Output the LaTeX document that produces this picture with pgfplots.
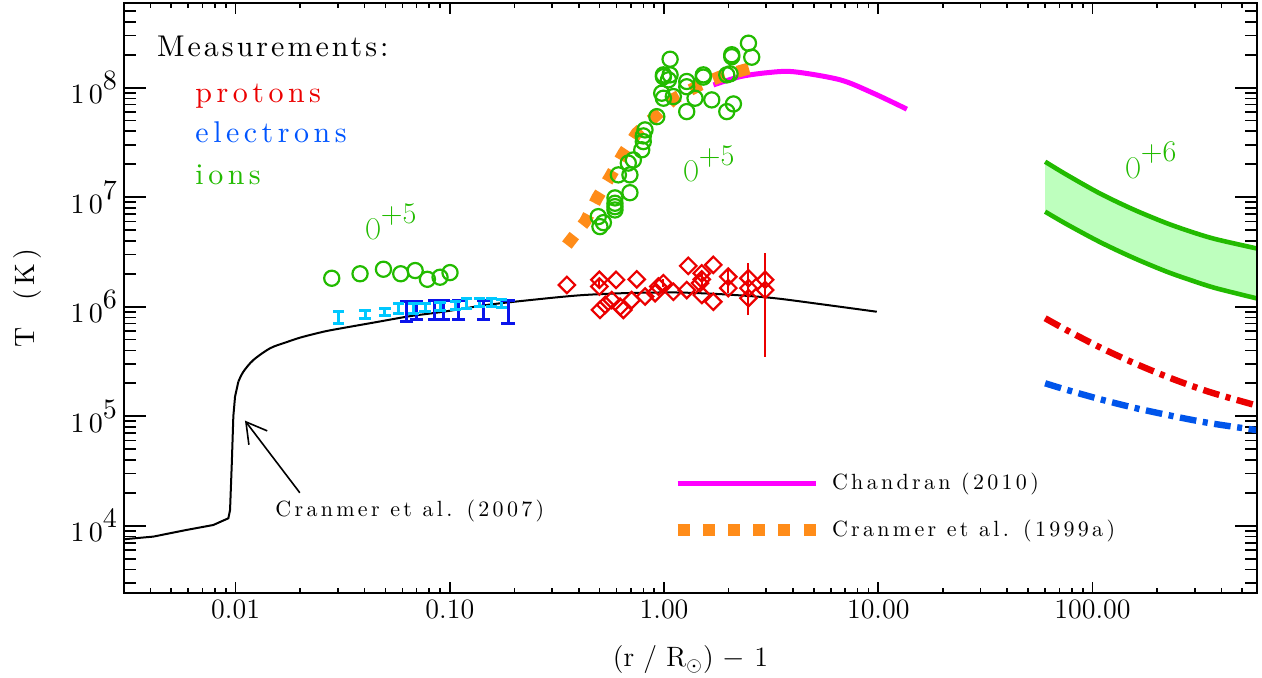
\documentclass[border=0pt]{standalone}
\usepackage{fontspec}
\usepackage{pgfplots}
\pgfplotsset{compat=1.18}
\usetikzlibrary{arrows.meta}
\newfontfamily\idl[LetterSpace=15]{lmroman10-regular.otf}
\newfontfamily\idlm[LetterSpace=10]{lmroman10-regular.otf}

\definecolor{ionG}{RGB}{34,187,0}
\definecolor{proR}{RGB}{235,0,0}
\definecolor{eleB}{RGB}{0,85,255}
\definecolor{barB}{RGB}{10,20,235}
\definecolor{barC}{RGB}{0,200,255}
\definecolor{magC}{RGB}{255,0,255}
\definecolor{oraC}{RGB}{255,140,25}
\definecolor{bandF}{RGB}{190,255,190}
\definecolor{dashB}{RGB}{0,85,235}

\newcommand\tp[1]{10\raisebox{7pt}{#1}}
\newcommand\ion[1]{\scalebox{0.72}[1]{O}\raisebox{8.3pt}{#1}}

\begin{document}
\begin{tikzpicture}
\begin{axis}[width=566.5pt, height=295pt, scale only axis,
  xmode=log, ymode=log, xmin=0.003013, xmax=586, ymin=2432, ymax=5.94e8,
  axis line style={line width=1pt},
  tick style={black, line width=0.8pt},
  xtick=\empty,
  ytick={1e4,1e5,1e6,1e7,1e8},
  yticklabels={\tp{4},\tp{5},\tp{6},\tp{7},\tp{8}},
  minor ytick={3e3,4e3,5e3,6e3,7e3,8e3,9e3,
    2e4,3e4,4e4,5e4,6e4,7e4,8e4,9e4,
    2e5,3e5,4e5,5e5,6e5,7e5,8e5,9e5,
    2e6,3e6,4e6,5e6,6e6,7e6,8e6,9e6,
    2e7,3e7,4e7,5e7,6e7,7e7,8e7,9e7,
    2e8,3e8,4e8,5e8},
  major tick length=11.3pt, minor tick length=5.8pt,
  yticklabel style={font=\fontsize{14}{16}\selectfont\idl},
  ylabel={T\ \ (K)},
  ylabel style={font=\fontsize{14}{16}\selectfont\idl,
    at={(axis description cs:-0.0856,0.5)}, anchor=center},
  legend style={at={(rel axis cs:0.483,0.1467)}, anchor=west,
    draw=none, fill=none, inner sep=0pt, row sep=13.5pt,
    font=\fontsize{11}{13}\selectfont\idl,
    nodes={inner sep=0pt},
    /tikz/every odd column/.style={column sep=5.2pt}},
  legend cell align=left,
  legend image code/.code={\draw[#1] (0pt,0pt) -- (69pt,0pt);},
]
\coordinate (bl) at (rel axis cs:0,0);
\coordinate (tr) at (rel axis cs:1,1);

% O+6 band
\addplot[fill=bandF, draw=none, forget plot] coordinates {
  (60.1,2.11e7) (75.9,1.60e7) (108.5,1.08e7) (155,7.74e6) (222,5.79e6) (300,4.72e6) (380,4.12e6) (586,3.40e6)
  (586,1.19e6) (380,1.47e6) (300,1.70e6) (222,2.09e6) (155,2.80e6) (108.5,3.89e6) (75.9,5.66e6) (60.1,7.38e6)
} -- cycle;
\addplot[ionG, line width=2.3pt, smooth, forget plot] coordinates {
  (60.1,2.11e7) (75.9,1.60e7) (108.5,1.08e7) (155,7.74e6) (222,5.79e6) (300,4.72e6) (380,4.12e6) (586,3.40e6)};
\addplot[ionG, line width=2.3pt, smooth, forget plot] coordinates {
  (60.1,7.38e6) (75.9,5.66e6) (108.5,3.89e6) (155,2.80e6) (222,2.09e6) (300,1.70e6) (380,1.47e6) (586,1.19e6)};

% wind protons and electrons
\addplot[proR, line width=3.2pt, smooth, dash pattern=on 8.3pt off 3.3pt on 2.5pt off 3.3pt, forget plot] coordinates {
  (60.1,7.85e5) (75.9,6.10e5) (108.5,4.25e5) (155,3.08e5) (222,2.30e5) (300,1.85e5) (380,1.59e5) (586,1.25e5)};
\addplot[dashB, line width=3.2pt, smooth, dash pattern=on 8.3pt off 3.3pt on 2.5pt off 3.3pt, forget plot] coordinates {
  (60.1,2.0e5) (75.9,1.74e5) (108.5,1.43e5) (155,1.20e5) (222,1.03e5) (300,9.16e4) (380,8.45e4) (586,7.46e4)};

% Cranmer et al. (2007)
\addplot[black, line width=1pt, forget plot] coordinates {
  (0.003013,7530) (0.00413,7960) (0.00591,9160) (0.00787,10160) (0.00925,11700)
  (0.00942,13900) (0.0096,37200) (0.00976,1.0e5) (0.00994,1.51e5) (0.0103,2.07e5)};
\addplot[black, line width=1pt, smooth, forget plot] coordinates {
  (0.0103,2.07e5) (0.01087,2.55e5) (0.0121,3.26e5) (0.0145,4.18e5) (0.0173,4.75e5)
  (0.0200,5.22e5) (0.0231,5.62e5) (0.0266,6.0e5) (0.0318,6.4e5) (0.0456,7.25e5)
  (0.0652,8.2e5) (0.0933,9.0e5) (0.15,1.04e6) (0.2366,1.15e6) (0.4,1.27e6)
  (0.646,1.33e6) (1.0,1.35e6) (1.32,1.34e6) (2.0,1.29e6) (3.24,1.20e6)
  (5.5,1.05e6) (9.84,9.0e5)};

% electron temperature ranges
\addplot[barB, line width=1.5pt, mark=-, mark size=3.3pt, forget plot] coordinates {(0.063,7.31e5) (0.063,1.11e6)};
\addplot[barB, line width=1.5pt, mark=-, mark size=3.3pt, forget plot] coordinates {(0.070,7.69e5) (0.070,1.11e6)};
\addplot[barB, line width=1.5pt, mark=-, mark size=3.3pt, forget plot] coordinates {(0.085,7.69e5) (0.085,1.13e6)};
\addplot[barB, line width=1.5pt, mark=-, mark size=3.3pt, forget plot] coordinates {(0.093,7.69e5) (0.093,1.13e6)};
\addplot[barB, line width=1.5pt, mark=-, mark size=3.3pt, forget plot] coordinates {(0.110,7.69e5) (0.110,1.13e6)};
\addplot[barB, line width=1.5pt, mark=-, mark size=3.3pt, forget plot] coordinates {(0.143,7.69e5) (0.143,1.15e6)};
\addplot[barB, line width=1.5pt, mark=-, mark size=3.3pt, forget plot] coordinates {(0.187,6.97e5) (0.187,1.15e6)};
\addplot[barC, line width=1.5pt, mark=-, mark size=2.8pt, forget plot] coordinates {(0.0302,7.06e5) (0.0302,9.0e5)};
\addplot[barC, line width=1.5pt, mark=-, mark size=2.8pt, forget plot] coordinates {(0.0402,7.85e5) (0.0402,9.2e5)};
\addplot[barC, line width=1.5pt, mark=-, mark size=2.8pt, forget plot] coordinates {(0.0498,8.24e5) (0.0498,9.68e5)};
\addplot[barC, line width=1.5pt, mark=-, mark size=2.8pt, forget plot] coordinates {(0.0575,8.73e5) (0.0575,1.06e6)};
\addplot[barC, line width=1.5pt, mark=-, mark size=2.8pt, forget plot] coordinates {(0.0676,8.73e5) (0.0676,1.06e6)};
\addplot[barC, line width=1.5pt, mark=-, mark size=2.8pt, forget plot] coordinates {(0.0766,9.0e5) (0.0766,1.08e6)};
\addplot[barC, line width=1.5pt, mark=-, mark size=2.8pt, forget plot] coordinates {(0.090,9.2e5) (0.090,1.09e6)};
\addplot[barC, line width=1.5pt, mark=-, mark size=2.8pt, forget plot] coordinates {(0.106,9.4e5) (0.106,1.12e6)};
\addplot[barC, line width=1.5pt, mark=-, mark size=2.8pt, forget plot] coordinates {(0.120,9.68e5) (0.120,1.20e6)};
\addplot[barC, line width=1.5pt, mark=-, mark size=2.8pt, forget plot] coordinates {(0.138,1.0e6) (0.138,1.20e6)};
\addplot[barC, line width=1.5pt, mark=-, mark size=2.8pt, forget plot] coordinates {(0.157,1.0e6) (0.157,1.20e6)};
\addplot[barC, line width=1.5pt, mark=-, mark size=2.8pt, forget plot] coordinates {(0.175,9.9e5) (0.175,1.17e6)};

% proton error lines
\addplot[proR, line width=1pt, forget plot] coordinates {(2.963,3.5e5) (2.963,3.08e6)};
\addplot[proR, line width=1pt, forget plot] coordinates {(2.477,8.4e5) (2.477,2.49e6)};
\addplot[proR, line width=1pt, forget plot] coordinates {(1.995,1.33e6) (1.995,2.25e6)};
\addplot[proR, line width=1pt, forget plot] coordinates {(1.500,1.48e6) (1.500,2.10e6)};
\addplot[proR, line width=1pt, forget plot] coordinates {(0.993,1.50e6) (0.993,1.80e6)};
\addplot[proR, line width=1pt, forget plot] coordinates {(0.499,1.50e6) (0.499,1.78e6)};

% protons
\addplot[only marks, mark=square, mark size=2.9pt,
  mark options={rotate=45, draw=proR, line width=1.1pt}, forget plot] coordinates {
  (0.352,1.58e6) (0.499,1.76e6) (0.499,1.53e6) (0.502,9.35e5) (0.531,1.04e6)
  (0.570,1.15e6) (0.597,1.76e6) (0.624,1.0e6) (0.646,9.35e5) (0.706,1.15e6)
  (0.746,1.78e6) (0.815,1.24e6) (0.908,1.33e6) (0.940,1.53e6) (0.993,1.64e6)
  (1.105,1.37e6) (1.276,1.42e6) (1.297,2.36e6) (1.500,2.02e6) (1.500,1.28e6)
  (1.472,1.64e6) (1.500,1.78e6) (1.698,2.41e6) (1.698,1.11e6) (1.995,1.88e6)
  (1.995,1.48e6) (2.477,1.82e6) (2.477,1.48e6) (2.477,1.20e6) (2.963,1.76e6)
  (2.963,1.42e6)};

% models
\addplot[magC, line width=2.5pt, smooth] coordinates {
  (1.70,1.06e8) (2.26,1.26e8) (3.02,1.37e8) (4.02,1.40e8) (6.64,1.18e8) (9.49,8.9e7) (13.6,6.37e7)};
\addlegendentry{Chandran (2010)}
\addplot[oraC, line width=6pt, dash pattern=on 6pt off 6.6pt] coordinates {
  (0.352,3.66e6) (0.428,5.98e6) (0.488,9.9e6) (0.56,1.54e7) (0.646,2.52e7)
  (0.745,3.84e7) (0.925,5.65e7) (1.12,8.0e7) (1.47,1.06e8) (1.82,1.26e8) (2.5,1.5e8)};
\addlegendentry{Cranmer et al. (1999a)}

% ions
\addplot[only marks, mark=o, mark size=3.8pt,
  mark options={draw=ionG, line width=1.1pt}, forget plot] coordinates {
  (0.0281,1.82e6) (0.0381,2.0e6) (0.0490,2.20e6) (0.0590,2.0e6) (0.0689,2.14e6)
  (0.0786,1.78e6) (0.0900,1.86e6) (0.1002,2.05e6)
  (0.493,6.65e6) (0.502,5.39e6) (0.521,5.86e6) (0.590,8.20e6) (0.590,8.81e6)
  (0.590,9.86e6) (0.590,7.65e6) (0.612,1.60e7) (0.693,1.60e7) (0.693,1.10e7)
  (0.681,2.05e7) (0.719,2.19e7) (0.787,2.71e7) (0.800,3.22e7) (0.800,3.63e7)
  (0.815,4.12e7) (0.925,5.44e7) (0.975,8.91e7) (0.993,8.02e7) (0.993,1.31e8)
  (1.067,1.31e8) (1.067,1.82e8) (0.993,1.26e8) (1.048,1.18e8) (1.105,8.30e7)
  (1.276,1.14e8) (1.276,1.02e8) (1.276,6.05e7) (1.395,8.02e7) (1.525,1.25e8)
  (1.525,1.31e8) (1.670,7.74e7) (1.963,6.05e7) (2.108,7.11e7) (2.033,1.34e8)
  (1.963,1.31e8) (2.070,1.92e8) (2.070,2.0e8) (2.477,2.55e8) (2.566,1.90e8)};

% annotations
\node[anchor=base west, inner sep=0pt, font=\fontsize{15}{17}\selectfont\idlm]
  at (rel axis cs:0.0289,0.909) {Measurements:};
\node[anchor=base west, inner sep=0pt, text=proR, font=\fontsize{15}{17}\selectfont\idl]
  at (rel axis cs:0.0627,0.8305) {protons};
\node[anchor=base west, inner sep=0pt, text=eleB, font=\fontsize{15}{17}\selectfont\idl]
  at (rel axis cs:0.0627,0.7632) {electrons};
\node[anchor=base west, inner sep=0pt, text=ionG, font=\fontsize{15}{17}\selectfont\idl]
  at (rel axis cs:0.0627,0.6927) {ions};
\node[anchor=base west, inner sep=0pt, text=ionG, font=\fontsize{15}{17}\selectfont]
  at (rel axis cs:0.2127,0.5983) {\ion{+5}};
\node[anchor=base west, inner sep=0pt, text=ionG, font=\fontsize{15}{17}\selectfont]
  at (rel axis cs:0.4934,0.6971) {\ion{+5}};
\node[anchor=base west, inner sep=0pt, text=ionG, font=\fontsize{15}{17}\selectfont]
  at (rel axis cs:0.8835,0.7029) {\ion{+6}};
\node[anchor=base west, inner sep=0pt, font=\fontsize{11}{13}\selectfont\idl]
  at (rel axis cs:0.1333,0.1293) {Cranmer et al. (2007)};
\draw[line width=0.8pt, -{Straight Barb[length=10pt, width=11.5pt]}]
  (axis cs:0.01995,2.0e4) -- (axis cs:0.01106,9.12e4);
\end{axis}

\begin{axis}[width=566.5pt, height=295pt, scale only axis,
  xmode=log, ymode=log, xmin=0.003013, xmax=586, ymin=2432, ymax=5.94e8,
  axis line style={line width=1pt},
  tick style={black, line width=0.8pt},
  ytick=\empty,
  xtick={0.01,0.1,1,10,100},
  xticklabels={0.01,0.10,1.00,10.00,100.00},
  minor xtick={0.004,0.005,0.006,0.007,0.008,0.009,
    0.02,0.03,0.04,0.05,0.06,0.07,0.08,0.09,
    0.2,0.3,0.4,0.5,0.6,0.7,0.8,0.9,
    2,3,4,5,6,7,8,9,
    20,30,40,50,60,70,80,90,
    200,300,400,500},
  major tick length=5.6pt, minor tick length=2.4pt,
  xticklabel style={font=\fontsize{14}{16}\selectfont},
  xlabel={(r / R$_{\odot}$) $-$ 1},
  xlabel style={font=\fontsize{14}{16}\selectfont,
    at={(axis description cs:0.5,0)}, yshift=-33.5pt, anchor=center},
]
\addplot[draw=none, forget plot] coordinates {(1,1e6)};
\end{axis}

\pgfresetboundingbox
\path ([shift={(-62pt,-42.5pt)}]bl) rectangle ([shift={(2.5pt,1.5pt)}]tr);
\end{tikzpicture}
\end{document}
